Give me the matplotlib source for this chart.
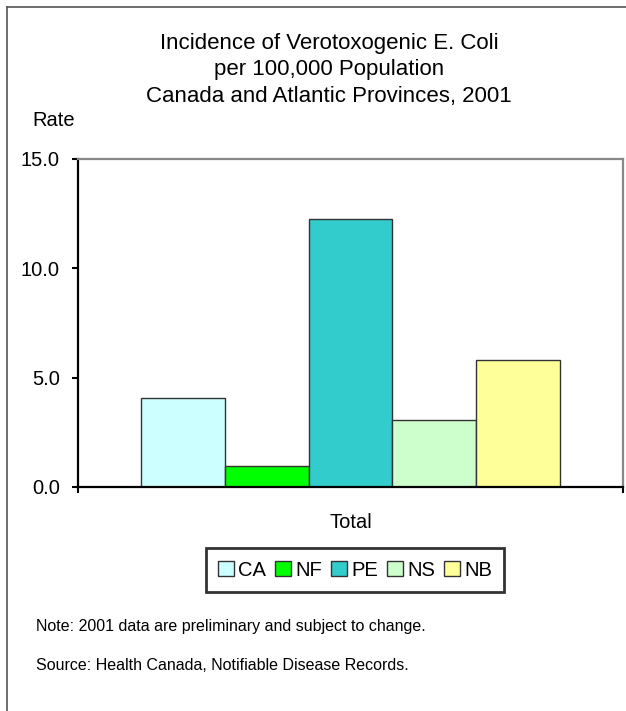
import matplotlib
matplotlib.use("Agg")
import matplotlib.pyplot as plt
from matplotlib.lines import Line2D
import numpy as np

plt.rcParams['font.family'] = ['Liberation Sans', 'DejaVu Sans']

provinces = ['CA', 'NF', 'PE', 'NS', 'NB']
rates = [4.05, 0.95, 12.25, 3.08, 5.81]
colors = ['#CCFFFF', '#00FF00', '#33CCCC', '#CCFFCC', '#FFFF99']
category = 'Total'

fig = plt.figure(figsize=(6.26, 7.11), dpi=100)
ax = fig.add_axes([78/626, 1 - 487/711, (623 - 78)/626, (487 - 159)/711])

n = len(provinces)
w = 0.77 / n
xs = (np.arange(n) - (n - 1) / 2) * w
for x, r, c, p in zip(xs, rates, colors, provinces):
    ax.bar(x, r, width=w, color=c, edgecolor='#333333', linewidth=1.0, label=p)

ax.set_xlim(-0.5, 0.5)
ax.set_ylim(0, 15)
ax.set_yticks([0, 5, 10, 15])
ax.set_yticklabels(['0.0', '5.0', '10.0', '15.0'])
ax.tick_params(axis='y', direction='out', length=4, width=1.5, pad=9, labelsize=14.5)

ax.set_xticks([0])
ax.set_xticklabels([category])
ax.tick_params(axis='x', which='major', length=0, pad=19, labelsize=14.5)
ax.set_xticks([-0.5, 0.5], minor=True)
ax.tick_params(axis='x', which='minor', direction='out', length=4, width=1.5)

for s in ['left', 'bottom']:
    ax.spines[s].set_color('black')
    ax.spines[s].set_linewidth(1.6)
for s in ['top', 'right']:
    ax.spines[s].set_color('#888888')
    ax.spines[s].set_linewidth(1.6)

fig.text(329/626, 1 - 70/711,
         'Incidence of Verotoxogenic E. Coli\nper 100,000 Population\nCanada and Atlantic Provinces, 2001',
         ha='center', va='center', fontsize=16, linespacing=1.33)
fig.text(32/626, 1 - 120/711, 'Rate', ha='left', va='center', fontsize=14.5)

leg = fig.legend(loc='center', bbox_to_anchor=(355/626, 1 - 570/711), ncol=5,
                 fontsize=14.5, frameon=True, fancybox=False, edgecolor='black',
                 handlelength=0.8, handleheight=0.8, handletextpad=0.2,
                 columnspacing=0.45, borderpad=0.6, borderaxespad=0)
leg.get_frame().set_linewidth(2)

fig.text(36/626, 1 - 627/711, 'Note: 2001 data are preliminary and subject to change.',
         ha='left', va='center', fontsize=11.5)
fig.text(36/626, 1 - 665/711, 'Source: Health Canada, Notifiable Disease Records.',
         ha='left', va='center', fontsize=11.5)

# outer frame (only left and top edges visible)
fig.add_artist(Line2D([7/626, 7/626], [0, 1 - 7/711], transform=fig.transFigure,
                      color='#555555', linewidth=1.2))
fig.add_artist(Line2D([7/626, 1], [1 - 7/711, 1 - 7/711], transform=fig.transFigure,
                      color='#555555', linewidth=1.2))

fig.savefig('out.png', dpi=100)
